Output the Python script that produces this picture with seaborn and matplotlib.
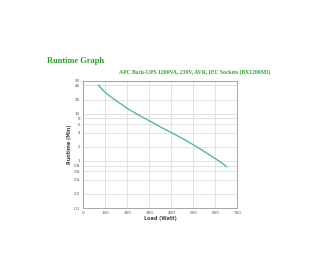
import matplotlib
matplotlib.use("Agg")
import matplotlib.pyplot as plt
import seaborn as sns
import pandas as pd
from matplotlib.ticker import FixedLocator, NullLocator

load_w = [68, 85, 100, 125, 150, 175, 200, 250, 300, 350, 400, 450, 500, 550, 600, 630, 652]
runtime_min = [41, 33.5, 28.4, 23.0, 18.9, 15.8, 13.0, 9.5, 7.1, 5.3, 4.0, 3.0, 2.2, 1.58, 1.12, 0.9, 0.75]
y_ticks = [0.1, 0.2, 0.4, 0.6, 0.8, 1, 2, 4, 6, 8, 10, 20, 40, 50]
y_tick_labels = ["0.1", "0.2", "0.4", "0.6", "0.8", "1", "2", "4", "6", "8", "10", "20", "40", "50"]
x_ticks = [0, 100, 200, 300, 400, 500, 600, 700]

df = pd.DataFrame({"load": load_w, "runtime": runtime_min})

sns.set_theme(style="white")
fig = plt.figure(figsize=(3.2, 2.8), dpi=100)
ax = fig.add_axes([0.260, 0.257, 0.482, 0.454])

sns.lineplot(data=df, x="load", y="runtime", ax=ax, color="#3dbb7d", linewidth=0.9)
ax.set_yscale("log")
ax.set_xlim(0, 700)
ax.set_ylim(0.1, 50)
ax.yaxis.set_major_locator(FixedLocator(y_ticks))
ax.yaxis.set_minor_locator(NullLocator())
ax.set_yticklabels(y_tick_labels)
ax.set_xticks(x_ticks)
ax.set_xticklabels([str(t) for t in x_ticks])
ax.grid(True, color="#dddddd", linewidth=0.6)
for s in ax.spines.values():
    s.set_color("#999999")
    s.set_linewidth(0.6)
ax.tick_params(axis="both", labelsize=3, colors="#555555", length=1.2, width=0.4, pad=1)
ax.set_xlabel("Load (Watt)", fontsize=3.5, fontweight="bold", color="#444444", labelpad=0.8)
ax.set_ylabel("Runtime (Min)", fontsize=3.5, fontweight="bold", color="#444444", labelpad=1.5)

fig.text(0.147, 1 - 61 / 280, "Runtime Graph", fontsize=6.0, fontweight="bold",
         family="Liberation Serif", color="#2e9e2e", ha="left", va="center")
fig.text(0.844, 1 - 72 / 280, "APC Back-UPS 1200VA, 230V, AVR, IEC Sockets (BX1200MI)",
         fontsize=4.1, fontweight="bold", family="Liberation Serif", color="#2e9e2e",
         ha="right", va="center")

fig.savefig("out.png", dpi=100, facecolor="white")
